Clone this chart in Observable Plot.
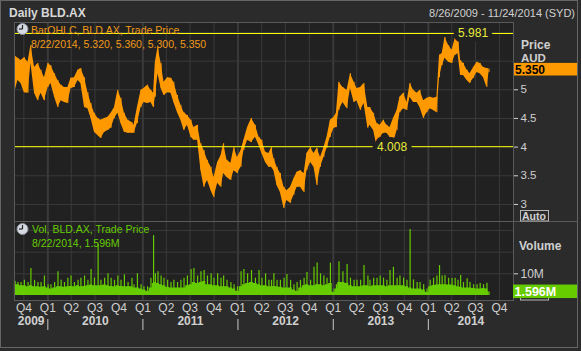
<!DOCTYPE html>
<html>
<head>
<meta charset="utf-8">
<script src="https://cdn.jsdelivr.net/npm/d3@7"></script>
<script src="https://cdn.jsdelivr.net/npm/@observablehq/plot@0.6"></script>
<style>
  html, body { margin: 0; padding: 0; background: #2b2b2b; }
  #root { position: relative; width: 581px; height: 351px; overflow: hidden; background: #2b2b2b;
          font-family: "Liberation Sans", Arial, sans-serif; }
  #root > svg, #root > .pl { position: absolute; left: 0; }
</style>
</head>
<body>
<div id="root"></div>
<script>
// ---------------- DATA ----------------
const dates = [
"2009-08-26","2009-09-08","2009-09-20","2009-10-03","2009-10-17","2009-10-28","2009-11-11","2009-11-24","2009-12-06","2009-12-19",
"2010-01-02","2010-01-13","2010-01-27","2010-02-09","2010-02-21","2010-03-06","2010-03-19","2010-03-31","2010-04-13","2010-04-27",
"2010-05-08","2010-05-22","2010-06-04","2010-06-16","2010-06-29","2010-07-13","2010-07-24","2010-08-07","2010-08-20","2010-09-01",
"2010-09-14","2010-09-27","2010-10-09","2010-10-22","2010-11-05","2010-11-20","2010-11-28","2010-12-11","2010-12-25","2011-01-05",
"2011-01-19","2011-02-01","2011-02-11","2011-02-18","2011-02-28","2011-03-12","2011-03-23","2011-04-06","2011-04-19","2011-04-30",
"2011-05-14","2011-05-27","2011-06-08","2011-06-21","2011-07-05","2011-07-16","2011-07-30","2011-08-12","2011-08-24","2011-09-06",
"2011-09-20","2011-10-01","2011-10-15","2011-10-28","2011-11-07","2011-11-20","2011-12-05","2011-12-17","2011-12-30","2012-01-13",
"2012-01-24","2012-02-07","2012-02-22","2012-03-08","2012-03-22","2012-04-02","2012-04-16","2012-04-29","2012-05-09","2012-05-18",
"2012-05-30","2012-06-12","2012-06-26","2012-07-07","2012-07-21","2012-08-03","2012-08-15","2012-08-28","2012-09-11","2012-09-22",
"2012-10-06","2012-10-19","2012-10-31","2012-11-13","2012-11-26","2012-12-08","2012-12-21","2013-01-04","2013-01-13","2013-01-23",
"2013-02-07","2013-02-23","2013-03-08","2013-03-22","2013-04-02","2013-04-16","2013-04-29","2013-05-14","2013-05-22","2013-06-05",
"2013-06-18","2013-06-30","2013-07-13","2013-07-26","2013-08-07","2013-08-20","2013-09-03","2013-09-14","2013-09-28","2013-10-11",
"2013-10-23","2013-11-05","2013-11-19","2013-11-30","2013-12-14","2013-12-27","2014-01-08","2014-01-21","2014-02-03","2014-02-13",
"2014-02-23","2014-03-06","2014-03-20","2014-04-02","2014-04-14","2014-04-25","2014-05-05","2014-05-16","2014-05-30","2014-06-10",
"2014-06-24","2014-07-07","2014-07-19","2014-08-01","2014-08-14","2014-08-22"
];
const priceHigh = [
5.60,5.55,5.51,5.56,5.48,5.77,5.39,5.46,5.34,5.21,
5.46,5.42,5.28,5.16,5.08,5.04,5.04,5.20,5.21,5.34,
5.37,5.21,4.95,4.76,4.59,4.50,4.47,4.50,4.52,4.59,
4.69,4.99,4.85,4.59,4.47,4.43,4.38,4.69,4.99,5.02,
5.08,4.99,4.94,5.48,5.74,5.46,5.13,5.21,5.20,5.13,
4.90,4.73,4.60,4.55,4.47,4.34,4.38,4.06,3.94,3.77,
3.65,3.47,3.73,3.85,4.06,3.77,3.72,3.99,3.82,3.94,
4.12,4.34,4.50,4.38,4.17,4.12,3.91,3.89,3.99,3.80,
3.65,3.54,3.30,3.24,3.30,3.45,3.56,3.59,3.54,3.89,
3.99,3.89,3.98,3.82,3.99,4.17,4.47,4.52,4.59,5.13,
5.04,4.99,5.28,5.13,5.02,5.04,5.11,4.69,4.69,4.59,
4.41,4.38,4.47,4.38,4.34,4.50,4.64,4.87,4.94,4.78,
5.11,4.99,4.94,4.99,4.81,4.85,4.87,4.85,4.87,5.60,
5.63,5.91,5.77,5.69,5.89,5.981,5.51,5.46,5.34,5.28,
5.39,5.48,5.46,5.39,5.37,5.36
];
const priceLow = [
4.94,5.16,5.11,4.95,4.94,5.46,4.94,4.81,4.94,4.81,
5.04,5.11,4.87,4.69,4.81,4.78,4.76,5.02,5.04,5.16,
5.11,4.69,4.67,4.50,4.26,4.20,4.15,4.26,4.29,4.33,
4.50,4.59,4.41,4.26,4.24,4.24,4.24,4.41,4.69,4.78,
4.76,4.78,4.69,4.87,5.28,5.02,4.90,4.95,4.94,4.78,
4.60,4.47,4.29,4.38,4.17,4.12,4.12,3.59,3.30,3.42,
3.24,3.12,3.37,3.30,3.54,3.47,3.42,3.59,3.54,3.65,
3.94,4.12,4.08,4.17,4.03,3.89,3.73,3.65,3.65,3.59,
3.33,3.21,2.93,3.07,3.02,3.16,3.30,3.30,3.21,3.59,
3.73,3.65,3.33,3.65,3.82,3.98,4.17,4.33,4.34,4.64,
4.78,4.67,5.02,4.78,4.81,4.64,4.76,4.33,4.38,4.29,
4.008,4.17,4.24,4.24,4.17,4.06,4.29,4.60,4.67,4.64,
4.87,4.78,4.78,4.69,4.50,4.60,4.67,4.64,4.60,5.21,
5.42,5.55,5.48,5.46,5.60,5.63,5.25,5.25,5.16,5.11,
5.20,5.30,5.28,5.21,5.04,5.30
];
// volume in millions: typical daily level and the largest day in each period
const volLevel = [
6.5,5,4.5,4.5,4,4.5,4,4,3.8,4,
3.5,3,3.5,4,4,3.8,4,4.2,4,4.5,
4,4.2,4.5,4.8,4.5,4.5,4.5,4.8,4.5,4.2,
4,4.5,4.2,4,4,4,3.5,3.5,3,2.5,
2,3.5,5.5,6,5.5,5,4.5,3.8,3.5,3.5,
3.5,3.5,3.5,4.5,5,6,5.5,6,6.5,5,
5,4.5,4.5,4,4,4,3.5,3,2,4,
5,5.5,6,5.5,5,4.5,4.5,4,4,4.2,
4,3.8,3.5,3.5,3.5,2.5,2,3.5,4.5,5,
4.5,4.5,5,5,4.5,5,5.5,1.5,3,6,
6,5.5,4.5,4,4,4,4.5,4.5,4,4.5,
4.5,4.5,4.5,4,4.5,4.5,4.5,4.5,4.5,4,
3.5,3,3,3,2.5,1.5,4,4.6,4.8,5,
5,5,4.8,4.8,4.5,4,3.8,3.5,3.5,3.5,
3.2,3,3,3.2,3,1.6
];
const volPeak = [
7,6,6,7,6,12.4,7,6,6,9,
5,5,6,11,7,6,8,9,6,7,
8,9,7,12,8,23.5,7,8,10,8,
7,9,7,9.5,6,8,5,10,5,4,
4,8,27.6,10,11,9,8,7,6,7,
6,7,8,9,12,12.5,9,11,11.5,9,
10,8,10,8,9,7,6,5,4,11,
12,10,11.5,8,11.5,8,10,7,7,10,
7,7,8,9.7,7,5,6,7,8,10.6,
7,13,15,10,9,8,14.9,3,5,15.6,
11,14.3,8,7,7,7,13.8,9,7,8,
8,9,8,7,11.5,13,8,9,8,7,
30.4,7.2,6,6,5,3,7,8,9,13.8,
9,9.2,8,7.8,8,7,9.2,6,7.7,6,
5,5,5.5,5,5.7,1.596
];
const lastDate = "2014-08-22";
const lastOHLC = [5.320, 5.360, 5.300, 5.350];
const lastVolume = 1.596;           // millions
const extremeValues = [5.981, 4.008];
const extremeDates = ["2014-04-25", "2013-06-18"];
const priceTicks = [3, 3.5, 4, 4.5, 5];
const priceGrid = [3, 3.5, 4, 4.5, 5, 5.5, 6];
const volTicks = [10];
const volGrid = [10, 20, 30];
const quarterStarts = ["2009-10-01","2010-01-01","2010-04-01","2010-07-01","2010-10-01","2011-01-01","2011-04-01",
  "2011-07-01","2011-10-01","2012-01-01","2012-04-01","2012-07-01","2012-10-01","2013-01-01","2013-04-01",
  "2013-07-01","2013-10-01","2014-01-01","2014-04-01","2014-07-01","2014-10-01"];
const quarterLabels = ["Q4","Q1","Q2","Q3","Q4","Q1","Q2","Q3","Q4","Q1","Q2","Q3","Q4","Q1","Q2","Q3","Q4","Q1","Q2","Q3","Q4"];
const yearLabels = ["2009","2010","2011","2012","2013","2014"];
const rangeStart = "2009-08-26", rangeEnd = "2014-11-24";

// ---------------- STYLE ----------------
const BG = "#2b2b2b", PANEL = "#212121", GRID = "#3a3a3a", BORDER = "#5a5a5a", TEXT = "#d0d0d0";
const ORANGE = "#ff9900", GREEN = "#66cc00", YELLOW = "#ffff00", YLABEL = "#e8ec3c";
const FONT = "'Liberation Sans', Arial, sans-serif";
const W = 581, ML = 14, MR = 68;
const PRICE_TOP = 22, PRICE_H = 199, VOL_TOP = 221, VOL_PANEL = 79, VOL_BOTTOM = 45;

// ---------------- DERIVED ----------------
const X_DOMAIN = [new Date(rangeStart), new Date(rangeEnd)];
const priceRows = dates.map((d, i) => ({date: new Date(d), high: priceHigh[i], low: priceLow[i]}));
const volRows = dates.map((d, i) => ({date: new Date(d), level: volLevel[i], peak: volPeak[i]}));
const qDates = quarterStarts.map(d => new Date(d));
const qYear = qDates.filter(d => d.getUTCMonth() === 0);
const qOther = qDates.filter(d => d.getUTCMonth() !== 0);
const yearStarts = yearLabels.slice(1).map(y => new Date(`${y}-01-01`));
const yearCenters = yearLabels.map(y => {
  const a = Math.max(+new Date(`${y}-01-01`), +X_DOMAIN[0]);
  const b = Math.min(+new Date(`${+y + 1}-01-01`), +X_DOMAIN[1]);
  return {date: new Date((a + b) / 2), label: y};
});
const fmtDate = s => { const d = new Date(s); return `${d.getUTCMonth() + 1}/${d.getUTCDate()}/${d.getUTCFullYear()}`; };
const plotStyle = {background: "transparent", color: TEXT, fontFamily: FONT, fontSize: "11.5px", overflow: "visible"};

const root = document.getElementById("root");

// ---------------- PRICE PANEL ----------------
const pricePlot = Plot.plot({
  width: W, height: PRICE_H, marginLeft: ML, marginRight: MR, marginTop: 0, marginBottom: 0,
  x: {domain: X_DOMAIN, axis: null},
  y: {domain: [2.703, 6.173], axis: null},
  style: plotStyle,
  marks: [
    Plot.frame({fill: PANEL}),
    Plot.ruleX(qOther, {stroke: GRID, strokeWidth: 1}),
    Plot.ruleX(qYear, {stroke: GRID, strokeWidth: 2}),
    Plot.ruleY(priceGrid, {stroke: GRID}),
    Plot.areaY(priceRows, {x: "date", y1: "low", y2: "high", fill: ORANGE}),
    Plot.ruleX(priceRows, {x: "date", y1: "low", y2: "high", stroke: ORANGE, strokeWidth: 1}),
    Plot.ruleY(extremeValues, {stroke: YELLOW, strokeWidth: 1}),
    Plot.text(extremeValues, {x: (d, i) => new Date(extremeDates[i]), y: d => d, text: d => d.toFixed(3),
      textAnchor: "start", fill: YLABEL, stroke: PANEL, strokeWidth: 10, paintOrder: "stroke", fontSize: 12}),
    Plot.frame({stroke: BORDER}),
    Plot.axisY(priceTicks, {anchor: "right", tickSize: 4, tickPadding: 3, label: null, fontSize: 11.5,
      tickFormat: d => String(d)})
  ]
});
pricePlot.classList.add("pl");
pricePlot.style.top = PRICE_TOP + "px";
root.appendChild(pricePlot);

// ---------------- VOLUME PANEL ----------------
const volPlot = Plot.plot({
  width: W, height: VOL_PANEL + VOL_BOTTOM, marginLeft: ML, marginRight: MR, marginTop: 0, marginBottom: VOL_BOTTOM,
  x: {domain: X_DOMAIN, axis: null},
  y: {domain: [-2.3, 34.1], axis: null},
  style: plotStyle,
  marks: [
    Plot.frame({fill: PANEL}),
    Plot.ruleX(qOther, {stroke: GRID, strokeWidth: 1}),
    Plot.ruleX(qYear, {stroke: GRID, strokeWidth: 2}),
    Plot.ruleY(volGrid, {stroke: GRID}),
    Plot.areaY(volRows, {x: "date", y1: 0, y2: "level", fill: GREEN, curve: "step"}),
    Plot.ruleX(volRows, {x: "date", y1: 0, y2: "peak", stroke: GREEN, strokeWidth: 1.2}),
    Plot.frame({stroke: BORDER}),
    Plot.axisY(volTicks, {anchor: "right", tickSize: 4, tickPadding: 3, label: null, fontSize: 12,
      tickFormat: d => d + "M"}),
    Plot.text(qDates, {x: d => d, text: (d, i) => quarterLabels[i], frameAnchor: "bottom", dy: 11.5,
      fill: TEXT, fontSize: 12}),
    Plot.axisX(yearStarts, {anchor: "bottom", tickSize: 11, dy: 19, label: null, tickFormat: () => "",
      stroke: "#c8c8c8"}),
    Plot.text(yearCenters, {x: "date", text: "label", frameAnchor: "bottom", dy: 24, fill: TEXT,
      fontWeight: "bold", fontSize: 12})
  ]
});
volPlot.classList.add("pl");
volPlot.style.top = VOL_TOP + "px";
root.appendChild(volPlot);

// ---------------- CHROME / LABELS ----------------
const yP = v => PRICE_TOP + pricePlot.scale("y").apply(v);
const yV = v => VOL_TOP + volPlot.scale("y").apply(v);
const svg = d3.select(root).append("svg").attr("width", W).attr("height", 351)
  .style("top", "0px").style("font-family", FONT);

// outer border and separators
svg.append("rect").attr("x", 0.5).attr("y", 0.5).attr("width", 577).attr("height", 347)
  .attr("fill", "none").attr("stroke", "#666");
svg.append("line").attr("x1", W - MR).attr("x2", 578).attr("y1", VOL_TOP + 0.5).attr("y2", VOL_TOP + 0.5)
  .attr("stroke", BORDER);

// title & range
svg.append("text").attr("x", 9).attr("y", 17).attr("fill", "#d8d8d8").attr("font-weight", "bold")
  .attr("font-size", 12).text("Daily BLD.AX");
svg.append("text").attr("x", 575).attr("y", 17).attr("fill", "#d0d0d0").attr("text-anchor", "end")
  .attr("font-size", 11).text(`${fmtDate(rangeStart)} - ${fmtDate(rangeEnd)} (SYD)`);

function clock(cx, cy) {
  const g = svg.append("g");
  g.append("circle").attr("cx", cx).attr("cy", cy).attr("r", 5.5).attr("fill", "#d6dae2").attr("stroke", "#8a8f99");
  g.append("line").attr("x1", cx).attr("y1", cy).attr("x2", cx).attr("y2", cy - 4).attr("stroke", "#222").attr("stroke-width", 1.2);
  g.append("line").attr("x1", cx).attr("y1", cy).attr("x2", cx - 3.5).attr("y2", cy).attr("stroke", "#222").attr("stroke-width", 1.2);
}
// price legend
clock(22.5, 29);
svg.append("text").attr("x", 31).attr("y", 34).attr("fill", "#f09a1a").attr("font-size", 10.5)
  .text("BarOHLC, BLD.AX, Trade Price");
svg.append("text").attr("x", 31).attr("y", 48).attr("fill", "#f09a1a").attr("font-size", 10.5)
  .text(`${fmtDate(lastDate)}, ${lastOHLC.map(v => v.toFixed(3)).join(", ")}`);
// volume legend
clock(22.5, 229);
svg.append("text").attr("x", 32).attr("y", 233).attr("fill", GREEN).attr("font-size", 10.5)
  .text("Vol, BLD.AX, Trade Price");
svg.append("text").attr("x", 32).attr("y", 247).attr("fill", GREEN).attr("font-size", 10.5)
  .text(`${fmtDate(lastDate)}, ${lastVolume.toFixed(3)}M`);

// right side: price
svg.append("text").attr("x", 521).attr("y", 49).attr("fill", TEXT).attr("font-weight", "bold").attr("font-size", 12).text("Price");
svg.append("text").attr("x", 521).attr("y", 61.5).attr("fill", TEXT).attr("font-weight", "bold").attr("font-size", 11.5).text("AUD");
const yc = yP(lastOHLC[3]);
svg.append("rect").attr("x", 514).attr("y", yc - 6.3).attr("width", 63).attr("height", 12.6).attr("fill", ORANGE);
svg.append("text").attr("x", 515).attr("y", yc + 4.4).attr("fill", "#000").attr("font-weight", "bold")
  .attr("font-size", 12).text(lastOHLC[3].toFixed(3));
// "Auto" scale buttons
svg.append("rect").attr("x", 520.5).attr("y", 210.5).attr("width", 28).attr("height", 10.5)
  .attr("fill", "none").attr("stroke", "#b8b8b8");
svg.append("text").attr("x", 522).attr("y", 219.5).attr("fill", TEXT).attr("font-weight", "bold")
  .attr("font-size", 10.5).text("Auto");
svg.append("rect").attr("x", 520.5).attr("y", 289.5).attr("width", 28).attr("height", 10.5)
  .attr("fill", "none").attr("stroke", "#b8b8b8");
// right side: volume
svg.append("text").attr("x", 519).attr("y", 250).attr("fill", TEXT).attr("font-weight", "bold").attr("font-size", 12).text("Volume");
const yvl = yV(lastVolume);
svg.append("rect").attr("x", 513).attr("y", yvl - 7).attr("width", 64).attr("height", 13.5).attr("fill", GREEN);
svg.append("text").attr("x", 514.5).attr("y", yvl + 4.5).attr("fill", "#fff").attr("font-weight", "bold")
  .attr("font-size", 12.5).text(lastVolume.toFixed(3) + "M");
</script>
</body>
</html>
